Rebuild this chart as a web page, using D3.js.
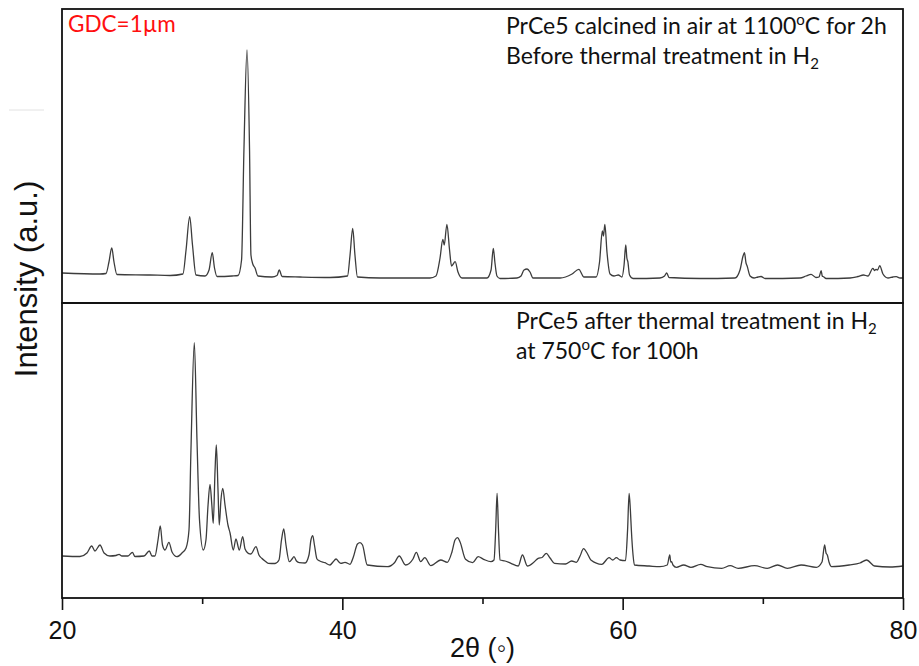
<!DOCTYPE html>
<html>
<head>
<meta charset="utf-8">
<script src="https://cdn.jsdelivr.net/npm/d3@7"></script>
<style>
  body { margin: 0; background: #fff; }
  svg { display: block; }
</style>
</head>
<body>
<script>
// 2theta (deg) and counts (before H2 treatment)
const topTheta = [20.00,22.71,23.14,23.35,23.55,23.71,23.92,26.28,27.71,28.63,28.85,29.11,29.31,29.56,30.20,30.49,30.72,30.88,31.06,32.13,32.56,32.81,32.98,33.20,33.38,33.48,33.61,33.77,33.98,34.98,35.34,35.50,35.70,36.98,39.12,40.37,40.55,40.74,40.90,41.08,42.69,46.25,46.68,46.97,47.17,47.27,47.46,47.65,47.79,48.05,48.25,48.54,50.32,50.61,50.77,50.89,51.03,51.25,52.46,52.75,52.96,53.18,53.39,53.60,55.53,56.39,56.87,57.24,58.10,58.35,58.55,58.63,58.73,58.88,59.10,59.38,59.69,59.95,60.10,60.22,60.30,60.37,60.49,60.74,62.66,62.99,63.14,63.31,65.52,68.01,68.37,68.59,68.69,68.80,68.88,69.09,69.37,69.66,69.87,70.16,72.65,73.08,73.44,73.79,74.01,74.16,74.24,74.33,74.51,76.22,76.79,77.18,77.50,77.85,77.97,78.07,78.18,78.34,78.57,78.93,79.29,79.52,79.79,80.00];
const topCounts = [300,290,295,410,550,410,285,280,275,290,530,863,580,280,270,330,503,350,265,270,275,430,1530,2530,1530,480,390,350,270,260,275,330,265,260,255,270,480,747,480,260,250,250,270,450,637,580,787,530,370,413,310,250,250,330,547,400,270,245,250,270,330,340,310,250,250,290,337,260,260,410,720,670,787,510,290,270,280,260,380,580,450,413,280,245,250,270,300,255,245,250,330,470,503,400,370,270,250,260,265,245,250,270,287,255,260,323,270,263,245,250,265,280,270,347,325,337,330,373,290,250,260,263,250,250];

// lower trace (after H2 treatment at 750 C)
const botTheta = [20.00,21.28,21.78,22.12,22.35,22.71,23.00,23.42,23.85,24.07,24.28,24.71,25.02,25.21,25.85,26.23,26.42,26.63,26.85,27.01,27.17,27.35,27.63,27.85,28.20,28.56,28.85,29.06,29.20,29.44,29.63,29.81,30.08,30.27,30.42,30.56,30.69,30.79,30.92,31.01,31.13,31.22,31.34,31.47,31.63,31.84,31.99,32.22,32.41,32.65,32.89,33.06,33.29,33.48,33.84,34.05,34.25,34.48,34.72,35.20,35.48,35.66,35.82,35.98,36.22,36.41,36.55,36.73,36.93,37.34,37.62,37.76,37.89,38.01,38.19,38.36,38.76,39.12,39.33,39.55,39.76,39.90,40.19,40.55,40.78,41.08,41.26,41.44,41.78,43.21,43.72,44.06,44.51,45.04,45.28,45.59,45.88,46.32,47.02,47.49,47.82,48.04,48.22,48.40,48.79,49.30,49.69,50.08,50.60,50.82,50.94,51.04,51.14,51.25,51.61,52.03,52.55,52.85,53.20,53.68,53.97,54.25,54.55,54.82,55.14,55.92,56.36,56.70,56.96,57.21,57.46,57.73,58.51,59.03,59.29,59.55,59.81,60.20,60.35,60.46,60.55,60.62,60.74,60.84,61.89,62.66,63.18,63.36,63.43,63.49,63.59,63.83,64.35,64.87,65.57,66.04,67.07,67.67,68.24,69.41,70.32,71.05,71.75,72.73,73.82,74.22,74.41,74.51,74.60,74.72,74.91,76.16,76.93,77.40,77.97,79.07,80.00];
const botCounts = [420,415,450,520,470,530,450,420,425,437,420,420,457,415,420,470,420,420,580,720,530,480,557,460,413,450,500,680,1480,2553,1580,780,480,580,930,1137,930,747,1280,1530,1080,730,980,1097,930,730,650,480,590,480,613,490,447,440,513,430,397,370,347,345,380,580,690,530,363,390,413,370,353,350,430,580,623,530,390,373,353,330,360,390,360,347,357,337,407,540,553,530,330,313,353,420,330,390,457,363,403,323,380,357,460,580,603,560,387,353,413,387,363,380,680,1047,680,380,370,347,320,430,320,360,397,405,447,400,347,340,370,357,420,493,450,380,337,403,380,403,380,373,680,1047,880,680,430,330,320,313,330,430,360,363,330,307,330,307,337,313,297,323,297,323,297,330,297,330,307,360,530,450,430,360,313,330,350,380,320,310,320];

const majorTicks = [20, 40, 60, 80];
const minorTicks = [30, 50, 70];

const width = 919;
const height = 666;

const svg = d3.select("body").append("svg")
    .attr("width", width)
    .attr("height", height);

// shared x, one y per panel
const x = d3.scaleLinear().domain([20, 80]).range([62, 903]);
const yTop = d3.scaleLinear().domain([0, 2940]).range([303, 9]);
const yBot = d3.scaleLinear().domain([0, 2950]).range([598, 303]);

// faint stray line at far left of the original figure
svg.append("line")
    .attr("x1", 9).attr("x2", 44).attr("y1", 110).attr("y2", 110)
    .attr("stroke", "#e2e2e2").attr("stroke-width", 1);

function drawPanel(id, thetas, counts, y) {
    const [y0, y1] = y.range();
    svg.append("clipPath").attr("id", id)
      .append("rect")
        .attr("x", x(20)).attr("y", y1)
        .attr("width", x(80) - x(20)).attr("height", y0 - y1);

    const pts = thetas.map((t, i) => [t, counts[i]]);
    const line = d3.line()
        .x(d => x(d[0]))
        .y(d => y(d[1]))
        .curve(d3.curveMonotoneX);

    svg.append("path")
        .datum(pts)
        .attr("clip-path", `url(#${id})`)
        .attr("fill", "none")
        .attr("stroke", "#3c3c3c")
        .attr("stroke-width", 1.3)
        .attr("stroke-linejoin", "round")
        .attr("d", line);

    svg.append("rect")
        .attr("x", x(20)).attr("y", y1)
        .attr("width", x(80) - x(20)).attr("height", y0 - y1)
        .attr("fill", "none")
        .attr("stroke", "#111")
        .attr("stroke-width", 1.8);
}

drawPanel("clipTop", topTheta, topCounts, yTop);
drawPanel("clipBot", botTheta, botCounts, yBot);

// bottom axis, major ticks with labels
const gMajor = svg.append("g")
    .attr("transform", `translate(0,${yBot.range()[0]})`)
    .call(d3.axisBottom(x).tickValues(majorTicks).tickSize(12).tickPadding(11).tickFormat(d3.format("d")));
gMajor.select(".domain").remove();
gMajor.selectAll("line").attr("stroke", "#111").attr("stroke-width", 1.6);
gMajor.selectAll("text")
    .attr("fill", "#111")
    .style("font-family", "'Liberation Sans', Arial, sans-serif")
    .style("font-size", "25px");

// minor ticks
const gMinor = svg.append("g")
    .attr("transform", `translate(0,${yBot.range()[0]})`)
    .call(d3.axisBottom(x).tickValues(minorTicks).tickSize(6).tickFormat(""));
gMinor.select(".domain").remove();
gMinor.selectAll("line").attr("stroke", "#111").attr("stroke-width", 1.6);

// axis titles
svg.append("text")
    .attr("x", (x(20) + x(80)) / 2)
    .attr("y", 657)
    .attr("text-anchor", "middle")
    .attr("fill", "#111")
    .style("font-family", "'Liberation Sans', Arial, sans-serif")
    .style("font-size", "27px")
    .text("2θ (◦)");

svg.append("text")
    .attr("transform", "translate(37,279) rotate(-90)")
    .attr("text-anchor", "middle")
    .attr("fill", "#111")
    .style("font-family", "'Liberation Sans', Arial, sans-serif")
    .style("font-size", "31px")
    .text("Intensity (a.u.)");

// annotations
const note = (px, py) => svg.append("text")
    .attr("x", px).attr("y", py)
    .attr("fill", "#111")
    .style("font-family", "Lato, 'Open Sans', sans-serif")
    .style("font-size", "23px");

const t1 = note(506, 34);
t1.append("tspan").text("PrCe5 calcined in air at 1100");
t1.append("tspan").attr("dy", -9).style("font-size", "15px").text("o");
t1.append("tspan").attr("dy", 9).text("C for 2h");

const t2 = note(506, 64);
t2.append("tspan").text("Before thermal treatment in H");
t2.append("tspan").attr("dy", 5).style("font-size", "15px").text("2");

const t3 = note(516, 329);
t3.append("tspan").text("PrCe5 after thermal treatment in H");
t3.append("tspan").attr("dy", 5).style("font-size", "15px").text("2");

const t4 = note(516, 359);
t4.append("tspan").text("at 750");
t4.append("tspan").attr("dy", -9).style("font-size", "15px").text("o");
t4.append("tspan").attr("dy", 9).text("C for 100h");

svg.append("text")
    .attr("x", 68).attr("y", 32)
    .attr("fill", "#ff1010")
    .style("font-family", "Lato, 'Open Sans', sans-serif")
    .style("font-size", "22.5px")
    .text("GDC=1µm");
</script>
</body>
</html>
